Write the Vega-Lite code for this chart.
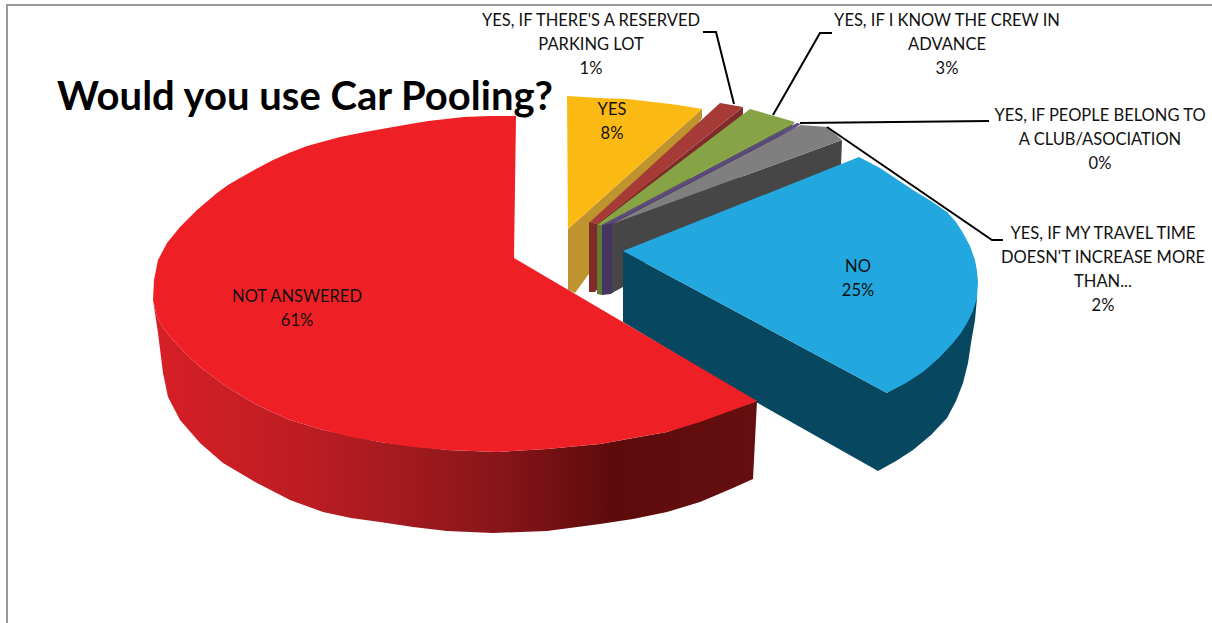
{
  "$schema": "https://vega.github.io/schema/vega-lite/v6.json",
  "width": 1212,
  "height": 623,
  "padding": 0,
  "autosize": "none",
  "background": "#ffffff",
  "view": {"stroke": null},
  "datasets": {
    "outlines": [
      {"piece":"YES wall","seq":1,"px":568,"py":229},{"piece":"YES wall","seq":2,"px":702,"py":109},{"piece":"YES wall","seq":3,"px":702,"py":118},{"piece":"YES wall","seq":4,"px":575,"py":293},{"piece":"YES wall","seq":5,"px":568,"py":290},
      {"piece":"YES face","seq":1,"px":568,"py":229},{"piece":"YES face","seq":2,"px":567,"py":96},{"piece":"YES face","seq":3,"px":600,"py":98},{"piece":"YES face","seq":4,"px":627,"py":99},{"piece":"YES face","seq":5,"px":653,"py":102},{"piece":"YES face","seq":6,"px":678,"py":105},{"piece":"YES face","seq":7,"px":702,"py":109},
      {"piece":"PARKING wall","seq":1,"px":589,"py":222},{"piece":"PARKING wall","seq":2,"px":597,"py":224},{"piece":"PARKING wall","seq":3,"px":743,"py":107},{"piece":"PARKING wall","seq":4,"px":743,"py":114},{"piece":"PARKING wall","seq":5,"px":595,"py":292},{"piece":"PARKING wall","seq":6,"px":589,"py":292},
      {"piece":"PARKING face","seq":1,"px":590,"py":222},{"piece":"PARKING face","seq":2,"px":720,"py":103},{"piece":"PARKING face","seq":3,"px":743,"py":107},{"piece":"PARKING face","seq":4,"px":597,"py":224},
      {"piece":"CREW wall","seq":1,"px":597,"py":225},{"piece":"CREW wall","seq":2,"px":602,"py":225},{"piece":"CREW wall","seq":3,"px":795,"py":122},{"piece":"CREW wall","seq":4,"px":790,"py":128},{"piece":"CREW wall","seq":5,"px":602,"py":295},{"piece":"CREW wall","seq":6,"px":597,"py":294},
      {"piece":"CREW face","seq":1,"px":597,"py":225},{"piece":"CREW face","seq":2,"px":750,"py":109},{"piece":"CREW face","seq":3,"px":795,"py":122},{"piece":"CREW face","seq":4,"px":602,"py":225},
      {"piece":"CLUB wall","seq":1,"px":602,"py":225},{"piece":"CLUB wall","seq":2,"px":612,"py":223},{"piece":"CLUB wall","seq":3,"px":801,"py":124},{"piece":"CLUB wall","seq":4,"px":790,"py":132},{"piece":"CLUB wall","seq":5,"px":611,"py":294},{"piece":"CLUB wall","seq":6,"px":602,"py":295},
      {"piece":"CLUB face","seq":1,"px":602,"py":225},{"piece":"CLUB face","seq":2,"px":797,"py":123},{"piece":"CLUB face","seq":3,"px":801,"py":124},{"piece":"CLUB face","seq":4,"px":612,"py":223},
      {"piece":"TRAVEL wall","seq":1,"px":612,"py":224},{"piece":"TRAVEL wall","seq":2,"px":842,"py":140},{"piece":"TRAVEL wall","seq":3,"px":841,"py":166},{"piece":"TRAVEL wall","seq":4,"px":623,"py":262},{"piece":"TRAVEL wall","seq":5,"px":623,"py":287},{"piece":"TRAVEL wall","seq":6,"px":612,"py":293},
      {"piece":"TRAVEL face","seq":1,"px":612,"py":224},{"piece":"TRAVEL face","seq":2,"px":801,"py":125},{"piece":"TRAVEL face","seq":3,"px":827,"py":127},{"piece":"TRAVEL face","seq":4,"px":842,"py":140},
      {"piece":"NO wall","seq":1,"px":623,"py":251},{"piece":"NO wall","seq":2,"px":887,"py":393},{"piece":"NO wall","seq":3,"px":977,"py":298},{"piece":"NO wall","seq":4,"px":975,"py":320},{"piece":"NO wall","seq":5,"px":971,"py":343},{"piece":"NO wall","seq":6,"px":968,"py":363},{"piece":"NO wall","seq":7,"px":963,"py":383},{"piece":"NO wall","seq":8,"px":956,"py":401},{"piece":"NO wall","seq":9,"px":947,"py":418},{"piece":"NO wall","seq":10,"px":931,"py":435},{"piece":"NO wall","seq":11,"px":913,"py":450},{"piece":"NO wall","seq":12,"px":896,"py":461},{"piece":"NO wall","seq":13,"px":878,"py":471},{"piece":"NO wall","seq":14,"px":756,"py":402},{"piece":"NO wall","seq":15,"px":623,"py":322},
      {"piece":"NO face","seq":1,"px":623,"py":251},{"piece":"NO face","seq":2,"px":859,"py":157},{"piece":"NO face","seq":3,"px":880,"py":168},{"piece":"NO face","seq":4,"px":913,"py":190},{"piece":"NO face","seq":5,"px":931,"py":201},{"piece":"NO face","seq":6,"px":947,"py":212},{"piece":"NO face","seq":7,"px":956,"py":222},{"piece":"NO face","seq":8,"px":963,"py":233},{"piece":"NO face","seq":9,"px":970,"py":246},{"piece":"NO face","seq":10,"px":975,"py":260},{"piece":"NO face","seq":11,"px":977,"py":271},{"piece":"NO face","seq":12,"px":978,"py":282},{"piece":"NO face","seq":13,"px":977,"py":298},{"piece":"NO face","seq":14,"px":973,"py":311},{"piece":"NO face","seq":15,"px":967,"py":323},{"piece":"NO face","seq":16,"px":961,"py":333},{"piece":"NO face","seq":17,"px":953,"py":343},{"piece":"NO face","seq":18,"px":939,"py":358},{"piece":"NO face","seq":19,"px":923,"py":372},{"piece":"NO face","seq":20,"px":906,"py":383},{"piece":"NO face","seq":21,"px":887,"py":393},
      {"piece":"NOT ANSWERED wall","seq":1,"px":153,"py":300},{"piece":"NOT ANSWERED wall","seq":2,"px":157,"py":317},{"piece":"NOT ANSWERED wall","seq":3,"px":164,"py":329},{"piece":"NOT ANSWERED wall","seq":4,"px":173,"py":340},{"piece":"NOT ANSWERED wall","seq":5,"px":186,"py":354},{"piece":"NOT ANSWERED wall","seq":6,"px":200,"py":367},{"piece":"NOT ANSWERED wall","seq":7,"px":227,"py":387},{"piece":"NOT ANSWERED wall","seq":8,"px":257,"py":405},{"piece":"NOT ANSWERED wall","seq":9,"px":290,"py":420},{"piece":"NOT ANSWERED wall","seq":10,"px":323,"py":430},{"piece":"NOT ANSWERED wall","seq":11,"px":380,"py":442},{"piece":"NOT ANSWERED wall","seq":12,"px":447,"py":450},{"piece":"NOT ANSWERED wall","seq":13,"px":497,"py":452},{"piece":"NOT ANSWERED wall","seq":14,"px":547,"py":449},{"piece":"NOT ANSWERED wall","seq":15,"px":600,"py":444},{"piece":"NOT ANSWERED wall","seq":16,"px":667,"py":432},{"piece":"NOT ANSWERED wall","seq":17,"px":757,"py":401},{"piece":"NOT ANSWERED wall","seq":18,"px":753,"py":479},{"piece":"NOT ANSWERED wall","seq":19,"px":733,"py":488},{"piece":"NOT ANSWERED wall","seq":20,"px":700,"py":502},{"piece":"NOT ANSWERED wall","seq":21,"px":667,"py":512},{"piece":"NOT ANSWERED wall","seq":22,"px":633,"py":519},{"piece":"NOT ANSWERED wall","seq":23,"px":600,"py":524},{"piece":"NOT ANSWERED wall","seq":24,"px":547,"py":531},{"piece":"NOT ANSWERED wall","seq":25,"px":493,"py":533},{"piece":"NOT ANSWERED wall","seq":26,"px":447,"py":531},{"piece":"NOT ANSWERED wall","seq":27,"px":413,"py":527},{"piece":"NOT ANSWERED wall","seq":28,"px":380,"py":522},{"piece":"NOT ANSWERED wall","seq":29,"px":351,"py":518},{"piece":"NOT ANSWERED wall","seq":30,"px":323,"py":512},{"piece":"NOT ANSWERED wall","seq":31,"px":290,"py":500},{"piece":"NOT ANSWERED wall","seq":32,"px":257,"py":483},{"piece":"NOT ANSWERED wall","seq":33,"px":223,"py":463},{"piece":"NOT ANSWERED wall","seq":34,"px":200,"py":443},{"piece":"NOT ANSWERED wall","seq":35,"px":180,"py":420},{"piece":"NOT ANSWERED wall","seq":36,"px":168,"py":397},{"piece":"NOT ANSWERED wall","seq":37,"px":163,"py":373},{"piece":"NOT ANSWERED wall","seq":38,"px":158,"py":333},
      {"piece":"NOT ANSWERED face","seq":1,"px":514,"py":258},{"piece":"NOT ANSWERED face","seq":2,"px":516,"py":116},{"piece":"NOT ANSWERED face","seq":3,"px":490,"py":116},{"piece":"NOT ANSWERED face","seq":4,"px":464,"py":117},{"piece":"NOT ANSWERED face","seq":5,"px":428,"py":121},{"piece":"NOT ANSWERED face","seq":6,"px":393,"py":127},{"piece":"NOT ANSWERED face","seq":7,"px":365,"py":132},{"piece":"NOT ANSWERED face","seq":8,"px":340,"py":137},{"piece":"NOT ANSWERED face","seq":9,"px":307,"py":146},{"piece":"NOT ANSWERED face","seq":10,"px":289,"py":153},{"piece":"NOT ANSWERED face","seq":11,"px":273,"py":160},{"piece":"NOT ANSWERED face","seq":12,"px":256,"py":169},{"piece":"NOT ANSWERED face","seq":13,"px":240,"py":178},{"piece":"NOT ANSWERED face","seq":14,"px":228,"py":185},{"piece":"NOT ANSWERED face","seq":15,"px":217,"py":193},{"piece":"NOT ANSWERED face","seq":16,"px":197,"py":210},{"piece":"NOT ANSWERED face","seq":17,"px":180,"py":227},{"piece":"NOT ANSWERED face","seq":18,"px":167,"py":243},{"piece":"NOT ANSWERED face","seq":19,"px":158,"py":260},{"piece":"NOT ANSWERED face","seq":20,"px":154,"py":280},{"piece":"NOT ANSWERED face","seq":21,"px":153,"py":300},{"piece":"NOT ANSWERED face","seq":22,"px":157,"py":317},{"piece":"NOT ANSWERED face","seq":23,"px":164,"py":329},{"piece":"NOT ANSWERED face","seq":24,"px":173,"py":340},{"piece":"NOT ANSWERED face","seq":25,"px":186,"py":354},{"piece":"NOT ANSWERED face","seq":26,"px":200,"py":367},{"piece":"NOT ANSWERED face","seq":27,"px":227,"py":387},{"piece":"NOT ANSWERED face","seq":28,"px":257,"py":405},{"piece":"NOT ANSWERED face","seq":29,"px":290,"py":420},{"piece":"NOT ANSWERED face","seq":30,"px":323,"py":430},{"piece":"NOT ANSWERED face","seq":31,"px":351,"py":437},{"piece":"NOT ANSWERED face","seq":32,"px":380,"py":442},{"piece":"NOT ANSWERED face","seq":33,"px":413,"py":447},{"piece":"NOT ANSWERED face","seq":34,"px":447,"py":450},{"piece":"NOT ANSWERED face","seq":35,"px":497,"py":452},{"piece":"NOT ANSWERED face","seq":36,"px":547,"py":449},{"piece":"NOT ANSWERED face","seq":37,"px":600,"py":444},{"piece":"NOT ANSWERED face","seq":38,"px":633,"py":438},{"piece":"NOT ANSWERED face","seq":39,"px":667,"py":432},{"piece":"NOT ANSWERED face","seq":40,"px":700,"py":422},{"piece":"NOT ANSWERED face","seq":41,"px":733,"py":410},{"piece":"NOT ANSWERED face","seq":42,"px":757,"py":401}
    ],
    "leaders": [
      {"target":"PARKING","seq":1,"px":703,"py":32},{"target":"PARKING","seq":2,"px":716,"py":32},{"target":"PARKING","seq":3,"px":734,"py":104},
      {"target":"CREW","seq":1,"px":832,"py":33},{"target":"CREW","seq":2,"px":820,"py":33},{"target":"CREW","seq":3,"px":773,"py":115},
      {"target":"CLUB","seq":1,"px":989,"py":121},{"target":"CLUB","seq":2,"px":800,"py":123},
      {"target":"TRAVEL","seq":1,"px":1003,"py":240},{"target":"TRAVEL","seq":2,"px":992,"py":240},{"target":"TRAVEL","seq":3,"px":827,"py":127}
    ],
    "frame": [
      {"seq":1,"px":7,"py":623},{"seq":2,"px":7,"py":5},{"seq":3,"px":1212,"py":5}
    ],
    "labels": [
      {"answer":"YES, IF THERE'S A RESERVED PARKING LOT","share":1,"text":"YES, IF THERE'S A RESERVED\nPARKING LOT\n1%","px":591,"py":21},
      {"answer":"YES, IF I KNOW THE CREW IN ADVANCE","share":3,"text":"YES, IF I KNOW THE CREW IN\nADVANCE\n3%","px":947,"py":21},
      {"answer":"YES, IF PEOPLE BELONG TO A CLUB/ASOCIATION","share":0,"text":"YES, IF PEOPLE BELONG TO\nA CLUB/ASOCIATION\n0%","px":1100,"py":116},
      {"answer":"YES, IF MY TRAVEL TIME DOESN'T INCREASE MORE THAN...","share":2,"text":"YES, IF MY TRAVEL TIME\nDOESN'T INCREASE MORE\nTHAN...\n2%","px":1103,"py":234},
      {"answer":"YES","share":8,"text":"YES\n8%","px":612,"py":110},
      {"answer":"NO","share":25,"text":"NO\n25%","px":858,"py":267},
      {"answer":"NOT ANSWERED","share":61,"text":"NOT ANSWERED\n61%","px":297,"py":297}
    ],
    "heading": [
      {"text":"Would you use Car Pooling?","px":305,"py":98}
    ]
  },
  "encoding": {
    "x": {"field":"px","type":"quantitative","scale":{"domain":[0,1212],"nice":false,"zero":false},"axis":null},
    "y": {"field":"py","type":"quantitative","scale":{"domain":[623,0],"nice":false,"zero":false},"axis":null}
  },
  "layer": [
    {
      "data": {"name":"frame"},
      "mark": {"type":"line","stroke":"#9a9a9a","strokeWidth":2},
      "encoding": {"order":{"field":"seq","type":"ordinal"}}
    },
    {
      "data": {"name":"outlines"},
      "transform": [{"filter":"indexof(datum.piece,'NOT ANSWERED')<0"}],
      "mark": {"type":"line","filled":true,"strokeWidth":0},
      "encoding": {
        "order":{"field":"seq","type":"quantitative"},
        "color":{"field":"piece","type":"nominal","legend":null,"scale":{
          "domain":["YES wall","YES face","PARKING wall","PARKING face","CREW wall","CREW face","CLUB wall","CLUB face","TRAVEL wall","TRAVEL face","NO wall","NO face"],
          "range":["#bf932d","#fbb914","#7e2b2a","#a53a37","#5f7a35","#86a345","#453560","#5d4785","#464646","#7f7f7f","#07475f","#22a7df"]
        }}
      }
    },
    {
      "data": {"name":"outlines"},
      "transform": [{"filter":"datum.piece==='NOT ANSWERED wall'"}],
      "mark": {"type":"line","strokeWidth":0,"filled":true,"fill":{"gradient":"linear","x1":0,"y1":0,"x2":1,"y2":0,"stops":[
        {"offset":0,"color":"#d81f27"},{"offset":0.24,"color":"#bd1d22"},{"offset":0.375,"color":"#a81b20"},{"offset":0.574,"color":"#88151a"},{"offset":0.756,"color":"#5e0b0c"},{"offset":1,"color":"#640e0f"}
      ]}},
      "encoding": {"order":{"field":"seq","type":"quantitative"}}
    },
    {
      "data": {"name":"outlines"},
      "transform": [{"filter":"datum.piece==='NOT ANSWERED face'"}],
      "mark": {"type":"line","filled":true,"strokeWidth":0,"fill":"#ee2025"},
      "encoding": {"order":{"field":"seq","type":"quantitative"}}
    },
    {
      "data": {"name":"leaders"},
      "mark": {"type":"line","stroke":"#000000","strokeWidth":2},
      "encoding": {"detail":{"field":"target"},"order":{"field":"seq","type":"quantitative"}}
    },
    {
      "data": {"name":"labels"},
      "mark": {"type":"text","font":"Lato","fontSize":16.5,"lineBreak":"\n","lineHeight":24,"align":"center","baseline":"middle","fill":"#111111"},
      "encoding": {"text":{"field":"text"}}
    },
    {
      "data": {"name":"heading"},
      "mark": {"type":"text","font":"Lato","fontSize":40,"fontWeight":"bold","align":"center","baseline":"middle","fill":"#000000"},
      "encoding": {"text":{"field":"text"}}
    }
  ]
}
